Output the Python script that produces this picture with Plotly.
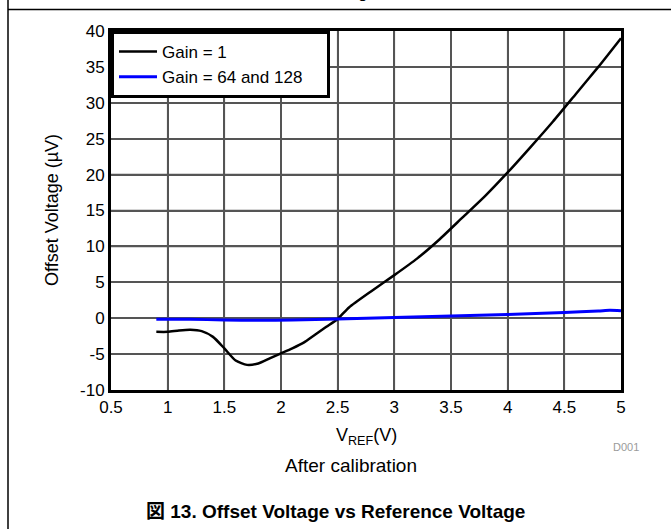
import plotly.graph_objects as go

# ---- data ----
gain1_x = [0.9, 1.0, 1.1, 1.2, 1.3, 1.4, 1.5, 1.6, 1.7, 1.8, 1.9, 2.0, 2.1, 2.2, 2.3, 2.4, 2.5,
           2.6, 2.8, 3.0, 3.2, 3.4, 3.6, 3.8, 4.0, 4.2, 4.4, 4.6, 4.8, 5.0]
gain1_y = [-1.9, -1.9, -1.7, -1.6, -1.8, -2.6, -4.2, -5.9, -6.5, -6.3, -5.6, -4.9, -4.2, -3.4, -2.3, -1.2, -0.1,
           1.5, 3.8, 6.0, 8.3, 11.0, 14.0, 17.0, 20.3, 23.8, 27.4, 31.2, 35.0, 39.0]
gain64_x = [0.9, 1.2, 1.5, 1.8, 2.1, 2.5, 3.0, 3.5, 4.0, 4.5, 4.8, 4.9, 5.0]
gain64_y = [-0.15, -0.15, -0.25, -0.3, -0.25, -0.1, 0.1, 0.3, 0.5, 0.8, 1.0, 1.1, 1.05]

x_ticks = [0.5, 1, 1.5, 2, 2.5, 3, 3.5, 4, 4.5, 5]
x_labels = ["0.5", "1", "1.5", "2", "2.5", "3", "3.5", "4", "4.5", "5"]
y_ticks = [-10, -5, 0, 5, 10, 15, 20, 25, 30, 35, 40]
y_labels = ["-10", "-5", "0", "5", "10", "15", "20", "25", "30", "35", "40"]

series_names = ["Gain = 1", "Gain = 64 and 128\u00a0\u00a0\u00a0\u00a0"]

W, H = 671, 529
L, R, T, B = 111, 50, 31, 139
PW, PH = W - L - R, H - T - B


def px(xp):
    return (xp - L) / PW


def py(yp):
    return (H - B - yp) / PH


FONT = "Liberation Sans, Arial, sans-serif"
GRID = "#555555"

fig = go.Figure()
fig.add_trace(go.Scatter(x=gain1_x, y=gain1_y, mode="lines", name=series_names[0],
                         line=dict(color="black", width=2.5, shape="spline", smoothing=0.6)))
fig.add_trace(go.Scatter(x=gain64_x, y=gain64_y, mode="lines", name=series_names[1],
                         line=dict(color="#0000ff", width=3, shape="spline", smoothing=0.6)))

axis_common = dict(showline=True, linecolor="black", linewidth=3, mirror=True,
                   showgrid=True, gridcolor=GRID, gridwidth=1.5,
                   zeroline=False, ticks="",
                   tickfont=dict(family=FONT, size=17, color="black"))

fig.update_xaxes(range=[0.5, 5], tickmode="array", tickvals=x_ticks, ticktext=x_labels, **axis_common)
fig.update_yaxes(range=[-10, 40], tickmode="array", tickvals=y_ticks, ticktext=y_labels, **axis_common)

# grid lines at the tick values (drawn through the axes' own scales)
shapes = []
for v in x_ticks[1:-1]:
    shapes.append(dict(type="line", xref="x", yref="paper", x0=v, x1=v, y0=0, y1=1,
                       line=dict(color=GRID, width=1.5), layer="below"))
for v in y_ticks[1:-1]:
    shapes.append(dict(type="line", xref="paper", yref="y", x0=0, x1=1, y0=v, y1=v,
                       line=dict(color=GRID, width=1.5), layer="below"))

# page frame lines
shapes += [
    dict(type="line", xref="paper", yref="paper", x0=px(8), x1=px(W + 5), y0=py(9.5), y1=py(9.5),
         line=dict(color="black", width=1.5)),
    dict(type="line", xref="paper", yref="paper", x0=px(8), x1=px(8), y0=py(-5), y1=py(H + 5),
         line=dict(color="black", width=1.5)),
]

annotations = [
    dict(text="Offset Voltage (\u00b5V)", xref="paper", yref="paper", x=px(52), y=py(210),
         textangle=-90, showarrow=False, font=dict(family=FONT, size=18, color="black"),
         xanchor="center", yanchor="middle"),
    dict(text="V<sub>REF</sub>(V)", xref="paper", yref="paper", x=px(366), y=py(436),
         showarrow=False, font=dict(family=FONT, size=18, color="black"),
         xanchor="center", yanchor="middle"),
    dict(text="D001", xref="paper", yref="paper", x=px(641), y=py(447),
         showarrow=False, font=dict(family=FONT, size=11, color="#9a9a9a"),
         xanchor="right", yanchor="middle"),
    dict(text="After calibration", xref="paper", yref="paper", x=px(351), y=py(466),
         showarrow=False, font=dict(family=FONT, size=19, color="black"),
         xanchor="center", yanchor="middle"),
    dict(text="<b>\u56f3 13. Offset Voltage vs Reference Voltage</b>", xref="paper", yref="paper",
         x=px(335), y=py(511), showarrow=False,
         font=dict(family="Liberation Sans, Arial, Noto Sans CJK JP, sans-serif", size=19, color="black"),
         xanchor="center", yanchor="middle"),
    dict(text="g", xref="paper", yref="paper", x=px(362), y=py(4),
         showarrow=False, font=dict(family=FONT, size=17, color="black"),
         xanchor="center", yanchor="bottom"),
]

fig.update_layout(
    template="none",
    width=W, height=H,
    margin=dict(l=L, r=R, t=T, b=B),
    paper_bgcolor="white", plot_bgcolor="white",
    showlegend=True,
    legend=dict(x=0, y=1, xanchor="left", yanchor="top",
                bgcolor="white", bordercolor="black", borderwidth=3,
                font=dict(family=FONT, size=17, color="black"),
                tracegroupgap=0, itemwidth=38),
    shapes=shapes,
    annotations=annotations,
)

fig.write_html("out.html")
